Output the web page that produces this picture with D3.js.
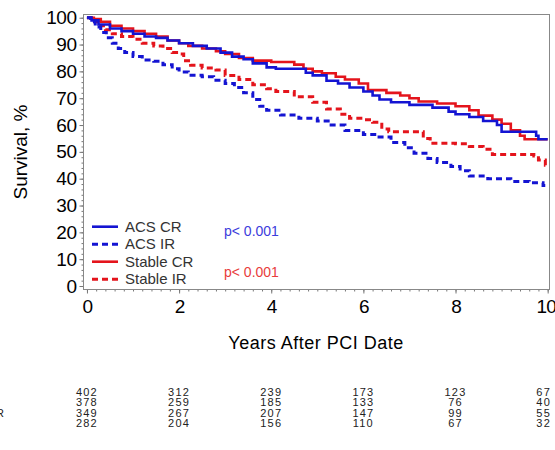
<!DOCTYPE html>
<html>
<head>
<meta charset="utf-8">
<script src="https://cdn.jsdelivr.net/npm/d3@7"></script>
<style>
  body { margin: 0; background: #fff; }
  svg { display: block; font-family: "Liberation Sans", Arial, sans-serif; }
  .axis text { fill: #000; }
  .axis line { stroke: #777; }
</style>
</head>
<body>
<div id="chart"></div>
<script>
// survival curves, [years, survival %]
var acsCR = [[0,100],[0.1,99],[0.25,97.5],[0.5,96],[0.75,95],[1.0,94],[1.25,93],[1.5,92.5],[1.75,91.5],[2.0,90.5],
  [2.3,89.5],[2.6,88.5],[2.9,87],[3.15,85.5],[3.4,84.5],[3.6,83],[3.9,81.5],[4.1,81],[4.75,79.5],[4.9,78.5],
  [5.2,76.5],[5.45,75.5],[5.7,74],[6.0,72.5],[6.2,71],[6.35,69.5],[6.6,68.5],[7.0,67.5],[7.5,66.5],[7.85,65],
  [8.0,64],[8.3,63],[8.6,61.5],[8.9,60],[9.0,57.5],[9.75,56],[9.8,54.7],[10.0,54.7]];
var acsIR = [[0,100],[0.08,98.5],[0.18,96.5],[0.3,94.5],[0.42,92.5],[0.55,90.5],[0.68,88.5],[0.82,87],[1.0,85.5],
  [1.2,84.2],[1.45,83.8],[1.65,82.5],[1.85,81],[2.0,79.8],[2.2,78.6],[2.5,78],[2.75,76.7],[3.0,75.5],[3.2,74],
  [3.4,72],[3.6,69.5],[3.75,67],[3.9,65.5],[4.2,63.7],[4.6,62.5],[5.0,61.5],[5.3,60],[5.6,58],[6.0,56.5],
  [6.3,55.5],[6.6,53.5],[6.9,51.5],[7.1,49.5],[7.4,47.5],[7.6,46],[7.9,44.5],[8.1,43],[8.3,41],[8.7,40],
  [9.2,39],[9.6,38.5],[9.9,37.5],[10.0,37.5]];
var stableCR = [[0,100],[0.15,99.5],[0.3,98.5],[0.5,97],[0.75,96],[1.0,95],[1.25,94],[1.5,93],[1.75,91.5],[2.0,90.5],
  [2.2,89.5],[2.5,88.5],[2.8,87.5],[3.0,86.5],[3.3,85],[3.6,84],[4.0,83.5],[4.5,82.5],[4.7,81],[4.9,80],
  [5.1,79.3],[5.4,78],[5.6,77],[5.9,75.5],[6.1,73],[6.5,72],[6.8,71],[7.0,70],[7.2,68.8],[7.6,68],[8.0,67],
  [8.3,65.5],[8.5,63.5],[8.8,62],[9.0,60.5],[9.2,58],[9.4,56],[9.5,54.7],[10.0,54.7]];
var stableIR = [[0,100],[0.1,98.5],[0.25,97],[0.4,95.5],[0.55,94],[0.75,93],[1.0,92],[1.2,90.5],[1.45,89.5],
  [1.65,88.5],[1.85,87],[2.0,86.5],[2.1,84],[2.25,82.3],[2.5,81.3],[2.8,80.5],[3.0,78.5],[3.3,77],[3.6,75],
  [3.9,73.5],[4.1,72.5],[4.5,70.5],[4.9,68.5],[5.2,66],[5.5,64],[5.7,62.5],[6.0,62],[6.2,61],[6.4,58.5],
  [6.55,57.5],[7.3,55],[7.45,53.2],[8.0,53],[8.3,52],[8.6,51],[8.8,49],[9.7,48.5],[9.8,47],[9.95,45],[10.0,45]];

var groups = ["ACS CR", "ACS IR", "Stable CR", "Stable IR"];
var xTicks = [0, 2, 4, 6, 8, 10];
var yTicks = [0, 10, 20, 30, 40, 50, 60, 70, 80, 90, 100];
var atRisk = [
  [402, 312, 239, 173, 123, 67],
  [378, 259, 185, 133, 76, 40],
  [349, 267, 207, 147, 99, 55],
  [282, 204, 156, 110, 67, 32]
];
var pValues = ["p< 0.001", "p< 0.001"];

var blue = "#1414d2", red = "#e4141c";
var series = [
  { name: groups[0], data: acsCR, color: blue, dash: null },
  { name: groups[1], data: acsIR, color: blue, dash: "6,4" },
  { name: groups[2], data: stableCR, color: red, dash: null },
  { name: groups[3], data: stableIR, color: red, dash: "6,4" }
];

var W = 555, H = 450;
var plot = { left: 83.5, right: 549.5, top: 14.5, bottom: 289.5 };

var x = d3.scaleLinear().domain([-0.075, 10.04]).range([plot.left, plot.right]);
var y = d3.scaleLinear().domain([-1.3, 101.2]).range([plot.bottom, plot.top]);

var svg = d3.select("#chart").append("svg")
  .attr("width", W)
  .attr("height", H);

// minor ticks first, then major
svg.append("g")
  .attr("class", "axis")
  .attr("transform", "translate(" + plot.left + ",0)")
  .call(d3.axisLeft(y).tickValues(d3.range(0, 101, 2)).tickSize(2).tickFormat(""))
  .call(function(g) { g.select(".domain").remove(); });

svg.append("g")
  .attr("class", "axis")
  .attr("transform", "translate(" + plot.left + ",0)")
  .call(d3.axisLeft(y).tickValues(yTicks).tickSize(4).tickPadding(3))
  .call(function(g) {
    g.select(".domain").remove();
    g.selectAll("text").style("font-size", "19px").attr("letter-spacing", "-0.5");
  });

svg.append("g")
  .attr("class", "axis")
  .attr("transform", "translate(0," + plot.bottom + ")")
  .call(d3.axisBottom(x).tickValues(d3.range(0, 10.01, 0.2)).tickSize(2).tickFormat(""))
  .call(function(g) { g.select(".domain").remove(); });

svg.append("g")
  .attr("class", "axis")
  .attr("transform", "translate(0," + plot.bottom + ")")
  .call(d3.axisBottom(x).tickValues(xTicks).tickSize(4).tickPadding(6))
  .call(function(g) {
    g.select(".domain").remove();
    g.selectAll("text").style("font-size", "19px").attr("letter-spacing", "-0.8")
      .attr("dx", function(d) { return d === 10 ? -2 : 0; });
  });

// frame
svg.append("rect")
  .attr("x", plot.left)
  .attr("y", plot.top)
  .attr("width", plot.right - plot.left)
  .attr("height", plot.bottom - plot.top)
  .attr("fill", "none")
  .attr("stroke", "#888")
  .attr("stroke-width", 1);

// axis titles
svg.append("text")
  .attr("transform", "translate(27,152) rotate(-90)")
  .attr("text-anchor", "middle")
  .style("font-size", "19px")
  .text("Survival, %");

svg.append("text")
  .attr("x", 316)
  .attr("y", 349)
  .attr("text-anchor", "middle")
  .style("font-size", "18px")
  .attr("letter-spacing", "0.5")
  .text("Years After PCI Date");

// curves
var line = d3.line()
  .curve(d3.curveStepAfter)
  .x(function(d) { return x(d[0]); })
  .y(function(d) { return y(d[1]); });

svg.append("g").selectAll("path")
  .data(series.slice().reverse())
  .enter().append("path")
  .attr("d", function(d) { return line(d.data); })
  .attr("fill", "none")
  .attr("stroke", function(d) { return d.color; })
  .attr("stroke-width", function(d) { return d.dash ? 3 : 2.6; })
  .attr("stroke-dasharray", function(d) { return d.dash; });

// legend
var legend = svg.append("g").selectAll("g")
  .data(series)
  .enter().append("g")
  .attr("transform", function(d, i) { return "translate(92," + (226.7 + i * 17.5) + ")"; });

legend.append("line")
  .attr("x1", 0).attr("x2", 26)
  .attr("stroke", function(d) { return d.color; })
  .attr("stroke-width", function(d) { return d.dash ? 3 : 2.6; })
  .attr("stroke-dasharray", function(d) { return d.dash; });

legend.append("text")
  .attr("x", 33)
  .attr("dy", "0.35em")
  .style("font-size", "15px")
  .attr("fill", "#333")
  .text(function(d) { return d.name; });

// p values
svg.append("g").selectAll("text")
  .data(pValues)
  .enter().append("text")
  .attr("x", 224)
  .attr("y", function(d, i) { return i === 0 ? 231 : 271.7; })
  .attr("dy", "0.35em")
  .style("font-size", "14px")
  .attr("fill", function(d, i) { return i === 0 ? "#3c3cdc" : "#e83c3c"; })
  .text(function(d) { return d; });

// number at risk table
var rowY = d3.scalePoint().domain(groups).range([391.7, 423.3]);

var rows = svg.append("g").selectAll("g")
  .data(atRisk)
  .enter().append("g")
  .attr("transform", function(d, i) { return "translate(0," + rowY(groups[i]) + ")"; });

rows.selectAll("text")
  .data(function(d) { return d; })
  .enter().append("text")
  .attr("x", function(d, j) { return x(xTicks[j]) + (j === xTicks.length - 1 ? -4 : 0); })
  .attr("dy", "0.35em")
  .attr("text-anchor", "middle")
  .style("font-size", "11px")
  .attr("letter-spacing", "1.2")
  .attr("fill", "#222")
  .text(function(d) { return d; });

// row labels sit off the left edge, only the tail of the longest shows
var labels = rows.append("text")
  .attr("dy", "0.35em")
  .style("font-size", "11px")
  .attr("fill", "#222")
  .text(function(d, i) { return groups[i]; });

var maxW = d3.max(labels.nodes(), function(n) { return n.getComputedTextLength(); });
labels.attr("x", 4 - maxW);
</script>
</body>
</html>
